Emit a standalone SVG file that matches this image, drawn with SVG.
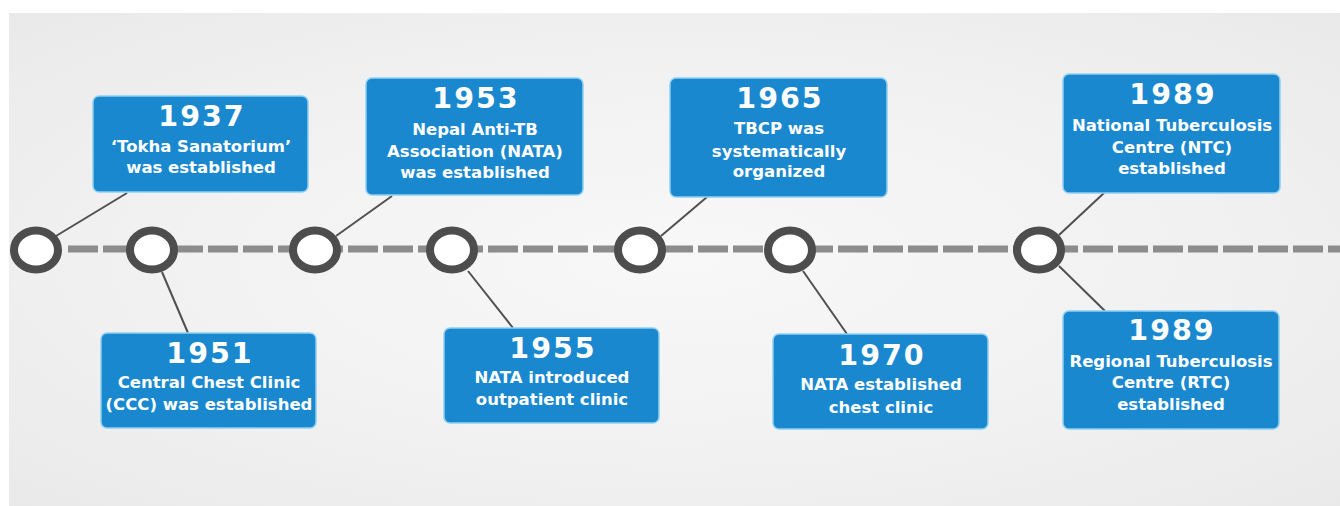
<svg xmlns="http://www.w3.org/2000/svg" width="1340" height="506" viewBox="0 0 1340 506">
  <defs>
    <radialGradient id="bg" cx="0.5" cy="0.5" r="0.75">
      <stop offset="0" stop-color="#f8f8f8"/>
      <stop offset="0.6" stop-color="#f0f0f0"/>
      <stop offset="1" stop-color="#e8e8e8"/>
    </radialGradient>
  </defs>
  <style>
    .box { fill: #1a88cf; stroke: #8fd0f2; stroke-width: 1.5; }
    .year { font-family: "DejaVu Sans", "Liberation Sans", sans-serif; font-weight: bold; font-size: 28.5px; letter-spacing: 2px; fill: #ffffff; text-anchor: middle; }
    .txt { font-family: "DejaVu Sans", "Liberation Sans", sans-serif; font-weight: bold; font-size: 16.5px; fill: #ffffff; text-anchor: middle; }
    .conn { stroke: #505050; stroke-width: 2; fill: none; }
    .node { fill: #ffffff; stroke: #4d4d4d; stroke-width: 8; }
    .axis { stroke: #8c8c8c; stroke-width: 7; stroke-dasharray: 30 5; fill: none; }
  </style>
  <rect x="0" y="0" width="1340" height="506" fill="#ffffff"/>
  <rect x="9" y="13" width="1331" height="493" fill="url(#bg)"/>

  <g id="connectors">
    <line class="axis" x1="68" y1="249" x2="1340" y2="249"/>
    <line class="conn" x1="56" y1="236" x2="127" y2="193"/>
    <line class="conn" x1="162" y1="272" x2="188" y2="333"/>
    <line class="conn" x1="336" y1="236" x2="392" y2="196"/>
    <line class="conn" x1="468" y1="271" x2="513" y2="328"/>
    <line class="conn" x1="661" y1="236" x2="707" y2="197"/>
    <line class="conn" x1="803" y1="271" x2="847" y2="334"/>
    <line class="conn" x1="1059" y1="235" x2="1104" y2="193"/>
    <line class="conn" x1="1059" y1="266" x2="1105" y2="311"/>
  </g>

  <g id="timeline-points">
    <ellipse id="p1" class="node" cx="36" cy="250" rx="22" ry="19.5"/>
    <ellipse id="p2" class="node" cx="152" cy="250" rx="22" ry="19.5"/>
    <ellipse id="p3" class="node" cx="315" cy="250" rx="22" ry="19.5"/>
    <ellipse id="p4" class="node" cx="452" cy="250" rx="22" ry="19.5"/>
    <ellipse id="p5" class="node" cx="640" cy="250" rx="22" ry="19.5"/>
    <ellipse id="p6" class="node" cx="790" cy="250" rx="22" ry="19.5"/>
    <ellipse id="p7" class="node" cx="1039" cy="250" rx="22" ry="19.5"/>
  </g>

  <g id="n1937">
    <rect class="box" x="93" y="96" width="215" height="96" rx="6"/>
    <text class="year" x="202" y="126">1937</text>
    <text class="txt" x="201" y="152">‘Tokha Sanatorium’</text>
    <text class="txt" x="201" y="173">was established</text>
  </g>
  <g id="n1951">
    <rect class="box" x="101" y="333" width="215" height="95" rx="6"/>
    <text class="year" x="210" y="363">1951</text>
    <text class="txt" x="209" y="388">Central Chest Clinic</text>
    <text class="txt" x="209" y="410">(CCC) was established</text>
  </g>
  <g id="n1953">
    <rect class="box" x="366" y="78" width="217" height="117" rx="6"/>
    <text class="year" x="476" y="108">1953</text>
    <text class="txt" x="475" y="135">Nepal Anti-TB</text>
    <text class="txt" x="475" y="157">Association (NATA)</text>
    <text class="txt" x="475" y="178">was established</text>
  </g>
  <g id="n1955">
    <rect class="box" x="444" y="328" width="215" height="95" rx="6"/>
    <text class="year" x="553" y="358">1955</text>
    <text class="txt" x="552" y="383">NATA introduced</text>
    <text class="txt" x="552" y="405">outpatient clinic</text>
  </g>
  <g id="n1965">
    <rect class="box" x="670" y="78" width="217" height="119" rx="6"/>
    <text class="year" x="780" y="108">1965</text>
    <text class="txt" x="779" y="134">TBCP was</text>
    <text class="txt" x="779" y="157">systematically</text>
    <text class="txt" x="779" y="177">organized</text>
  </g>
  <g id="n1970">
    <rect class="box" x="773" y="334" width="215" height="95" rx="6"/>
    <text class="year" x="882" y="365">1970</text>
    <text class="txt" x="881" y="390">NATA established</text>
    <text class="txt" x="881" y="413">chest clinic</text>
  </g>
  <g id="n1989ntc">
    <rect class="box" x="1063" y="74" width="217" height="119" rx="6"/>
    <text class="year" x="1173" y="104">1989</text>
    <text class="txt" x="1172" y="131">National Tuberculosis</text>
    <text class="txt" x="1172" y="153">Centre (NTC)</text>
    <text class="txt" x="1172" y="174">established</text>
  </g>
  <g id="n1989rtc">
    <rect class="box" x="1063" y="311" width="216" height="118" rx="6"/>
    <text class="year" x="1172" y="340">1989</text>
    <text class="txt" x="1171" y="367">Regional Tuberculosis</text>
    <text class="txt" x="1171" y="388">Centre (RTC)</text>
    <text class="txt" x="1171" y="410">established</text>
  </g>
</svg>
